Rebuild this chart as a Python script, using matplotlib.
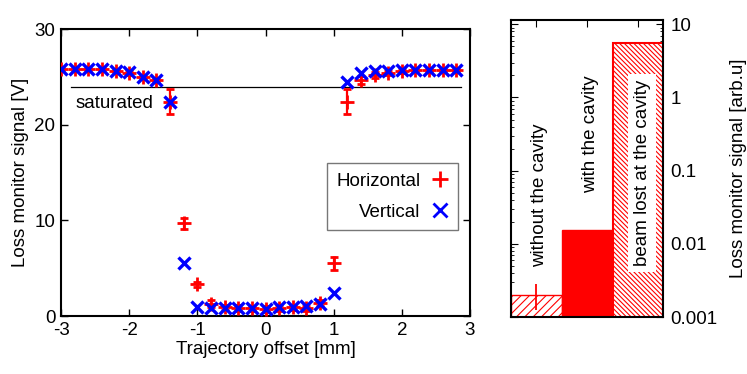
import numpy as np
import matplotlib
matplotlib.use("Agg")
import matplotlib.pyplot as plt
from matplotlib.ticker import LogLocator, NullFormatter
from matplotlib.lines import Line2D

plt.rcParams['font.family'] = ['Liberation Sans', 'DejaVu Sans']
plt.rcParams['hatch.linewidth'] = 0.8

# ---- data: left panel ----
offset = [-3.0, -2.8, -2.6, -2.4, -2.2, -2.0, -1.8, -1.6, -1.4, -1.2, -1.0, -0.8, -0.6, -0.4,
          -0.2, 0.0, 0.2, 0.4, 0.6, 0.8, 1.0, 1.2, 1.4, 1.6, 1.8, 2.0, 2.2, 2.4, 2.6, 2.8]
horizontal = [25.8, 25.8, 25.8, 25.8, 25.6, 25.4, 25.0, 24.7, 22.4, 9.7, 3.3, 1.3, 0.9, 0.85,
              0.8, 0.75, 0.85, 0.9, 0.8, 1.4, 5.5, 22.4, 24.7, 25.2, 25.4, 25.6, 25.7, 25.7, 25.7, 25.7]
horizontal_err = [0.2, 0.2, 0.2, 0.2, 0.2, 0.2, 0.2, 0.2, 1.3, 0.6, 0.3, 0.4, 0.3, 0.3,
                  0.3, 0.3, 0.3, 0.3, 0.3, 0.3, 0.7, 1.3, 0.4, 0.3, 0.2, 0.2, 0.2, 0.2, 0.2, 0.2]
vertical = [25.8, 25.8, 25.8, 25.8, 25.6, 25.5, 25.0, 24.7, 22.4, 5.5, 0.9, 0.85, 0.85, 0.85,
            0.8, 0.75, 0.9, 0.95, 1.0, 1.3, 2.4, 24.5, 25.4, 25.6, 25.6, 25.7, 25.7, 25.7, 25.7, 25.7]
vertical_err = [0.2] * len(offset)
saturation_level = 24.0

# ---- data: right panel ----
bar_labels = ["without the cavity", "with the cavity", "beam lost at the cavity"]
bar_values = [0.002, 0.0155, 5.5]
bar1_err_low = 0.00125
bar1_err_high = 0.0028

FS = 13.5
fig = plt.figure(figsize=(7.47, 3.74), dpi=100)

# Left axes
ax = fig.add_axes([0.0817, 0.155, 0.5475, 0.767])
ax.errorbar(offset, horizontal, yerr=horizontal_err, fmt='+', color='red', ms=10, mew=2.0,
            elinewidth=1.6, capsize=3, capthick=1.6, zorder=3)
ax.errorbar(offset, vertical, yerr=vertical_err, fmt='x', color='blue', ms=8, mew=2.4,
            elinewidth=1.6, capsize=0, zorder=4)
ax.plot([-2.85, 2.87], [saturation_level, saturation_level], color='black', lw=0.9, zorder=2)
ax.text(-2.79, 22.2, "saturated", fontsize=FS, va='center', ha='left')

ax.set_xlim(-3, 3)
ax.set_ylim(0, 30)
ax.set_xticks([-3, -2, -1, 0, 1, 2, 3])
ax.set_xticklabels(['-3', '-2', '-1', '0', '1', '2', '3'])
ax.set_yticks([0, 10, 20, 30])
ax.tick_params(direction='in', top=True, right=True, labelsize=FS, length=5, width=1, pad=4)
ax.set_xlabel("Trajectory offset [mm]", fontsize=FS, labelpad=2)
ax.set_ylabel("Loss monitor signal [V]", fontsize=FS, labelpad=4)
for s in ax.spines.values():
    s.set_linewidth(1.5)

handles = [Line2D([], [], ls='none', marker='+', color='red', ms=12, mew=2.0),
           Line2D([], [], ls='none', marker='x', color='blue', ms=10, mew=2.0)]
leg = ax.legend(handles, ['Horizontal', 'Vertical'], loc='upper right',
                bbox_to_anchor=(0.971, 0.533), markerfirst=False,
                fontsize=FS, frameon=True, fancybox=False, edgecolor='#555555',
                handlelength=0.9, handletextpad=0.6, borderpad=0.5, labelspacing=0.75,
                borderaxespad=0)
leg.get_frame().set_linewidth(1.0)
for t in leg.get_texts():
    t.set_ha('right')

# Right axes
ax2 = fig.add_axes([0.684, 0.152, 0.204, 0.795])
xpos = [0.5, 1.5, 2.5]
base = 0.0009
ax2.bar(xpos[0], bar_values[0] - base, width=1.0, bottom=base, facecolor='white', edgecolor='red',
        hatch='////', linewidth=1.0, zorder=2)
ax2.bar(xpos[1], bar_values[1] - base, width=1.0, bottom=base, facecolor='red', edgecolor='red',
        linewidth=1.0, zorder=2)
ax2.bar(xpos[2], bar_values[2] - base, width=1.0, bottom=base, facecolor='white', edgecolor='red',
        hatch='\\\\\\\\\\\\\\', linewidth=1.5, zorder=2)
ax2.errorbar([xpos[0]], [bar_values[0]],
             yerr=[[bar_values[0] - bar1_err_low], [bar1_err_high - bar_values[0]]],
             fmt='none', ecolor='red', elinewidth=1.3, capsize=0, zorder=3)

ax2.set_yscale('log')
ax2.set_ylim(0.001, 11.5)
ax2.set_xlim(0, 3)
ax2.yaxis.tick_right()
ax2.yaxis.set_label_position('right')
ax2.set_yticks([0.001, 0.01, 0.1, 1, 10])
ax2.set_yticklabels(['0.001', '0.01', '0.1', '1', '10'])
ax2.yaxis.set_minor_locator(LogLocator(base=10, subs=np.arange(2, 10) * 1.0))
ax2.yaxis.set_minor_formatter(NullFormatter())
ax2.set_xticks([0.5, 1.5, 2.5])
ax2.set_xticklabels([])
ax2.tick_params(axis='both', which='both', direction='in', left=True, right=True,
                top=True, bottom=True, labelsize=FS)
ax2.tick_params(which='major', length=5, pad=5)
ax2.tick_params(which='minor', length=2.5)
ax2.set_ylabel("Loss monitor signal [arb.u]", fontsize=FS, labelpad=9)
for s in ax2.spines.values():
    s.set_linewidth(1.5)

ax2.text(0.57, 0.046, bar_labels[0], rotation=90, fontsize=FS, ha='center', va='center', zorder=4)
ax2.text(1.56, 0.32, bar_labels[1], rotation=90, fontsize=FS, ha='center', va='center', zorder=4)
ax2.text(2.58, 0.093, bar_labels[2], rotation=90, fontsize=FS, ha='center', va='center', zorder=4,
         bbox=dict(facecolor='white', edgecolor='none', pad=4))

fig.savefig("out.png", dpi=100)
